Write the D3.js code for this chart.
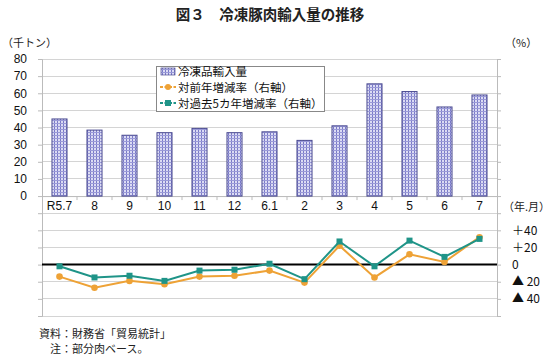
<!DOCTYPE html>
<html><head><meta charset="utf-8">
<script src="https://cdn.jsdelivr.net/npm/d3@7"></script>
<style>body{margin:0;background:#fff}svg{display:block}</style>
</head><body>
<svg id="c" width="550" height="358"></svg>
<script>
const categories = ["R5.7","8","9","10","11","12","6.1","2","3","4","5","6","7"];
const imports = [45, 38.5, 35.5, 37, 39.5, 37, 37.5, 32.5, 41, 65.5, 61, 52, 59];
const yoyRate = [-14, -27, -19, -23, -14, -13, -7, -21, 22, -15, 12, 3, 32];
const fiveYearRate = [-2, -15, -13, -19, -7, -6, 1, -17, 27, -2, 28, 9, 30];
const leftTicks = [0,10,20,30,40,50,60,70,80];
const rightTicks = [40,20,0,-20,-40];
const rightTickLabels = ["＋40","＋20","0","▲ 20","▲ 40"];

const JP = "'Noto Sans CJK JP', sans-serif";
const NUM = "'Liberation Sans', Arial, sans-serif";
const svg = d3.select("#c");
const L = 42, R = 497, T = 59, B = 316;

const x = d3.scaleBand().domain(categories).range([L, R]).paddingInner(0.57).paddingOuter(0.285);
const xc = d3.scaleBand().domain(categories).range([L, R]);
const yL = d3.scaleLinear().domain([-70, 80]).range([B, T]);
const yR = d3.scaleLinear().domain([-60, 240]).range([B, T]);

// pattern
const defs = svg.append("defs");
const pat = defs.append("pattern").attr("id","plaid").attr("patternUnits","userSpaceOnUse").attr("width",3).attr("height",3);
pat.append("rect").attr("width",3).attr("height",3).attr("fill","#dcdcf4");
pat.append("rect").attr("x",0).attr("y",0).attr("width",1).attr("height",3).attr("fill","#7a7ac8");
pat.append("rect").attr("x",0).attr("y",0).attr("width",3).attr("height",1).attr("fill","#9a9ad8");

// title
svg.append("text").attr("x",270).attr("y",20).attr("text-anchor","middle")
  .attr("font-family",JP).attr("font-size",14.5).attr("font-weight","bold").attr("fill","#222")
  .text("図３　冷凍豚肉輸入量の推移");
svg.append("text").attr("x",2).attr("y",47).attr("font-family",JP).attr("font-size",11).attr("fill","#222").text("（千トン）");
svg.append("text").attr("x",505).attr("y",47).attr("font-family",JP).attr("font-size",11).attr("fill","#222").text("（%）");

// gridlines
const grid = d3.range(-70, 81, 10);
svg.append("g").selectAll("line").data(grid).join("line")
  .attr("x1",L).attr("x2",R).attr("y1",d=>yL(d)).attr("y2",d=>yL(d))
  .attr("stroke","#d4d4d4").attr("stroke-width",1).attr("shape-rendering","crispEdges");

// left axis
const gl = svg.append("g").attr("transform",`translate(${L},0)`)
  .call(d3.axisLeft(yL).tickValues(grid).tickSize(4).tickFormat(d => leftTicks.includes(d) ? d : ""));
gl.select(".domain").attr("stroke","#bbb");
gl.selectAll(".tick line").attr("stroke","#bbb");
gl.selectAll(".tick text").attr("font-family",NUM).attr("font-size",12).attr("fill","#111").attr("dx",-8);

// right axis
const gr = svg.append("g").attr("transform",`translate(${R},0)`)
  .call(d3.axisRight(yR).tickValues(d3.range(-60, 241, 20)).tickSize(4).tickFormat(""));
gr.select(".domain").attr("stroke","#bbb");
gr.selectAll(".tick line").attr("stroke","#bbb");
svg.append("g").selectAll("text").data(rightTicks).join("text")
  .attr("x",512).attr("y",d=>yR(d)).attr("dy","0.35em")
  .attr("font-family",JP).attr("font-size",12).attr("fill","#111")
  .text((d,i)=>rightTickLabels[i]);
svg.append("text").attr("x",503).attr("y",211).attr("font-family",JP).attr("font-size",11).attr("fill","#222").text("（年.月）");

// x axis at 0 of left
const gx = svg.append("g").attr("transform",`translate(0,${yL(0)})`)
  .call(d3.axisBottom(xc).tickSize(0).tickFormat(d=>d));
gx.select(".domain").attr("stroke","#bbb");
gx.selectAll(".tick text").attr("font-family",NUM).attr("font-size",12).attr("fill","#111").attr("dy","0.9em");
svg.append("g").selectAll("line").data(categories.slice(1)).join("line")
  .attr("x1",d=>xc(d)).attr("x2",d=>xc(d)).attr("y1",yL(0)).attr("y2",yL(0)+4)
  .attr("stroke","#bbb");

// bars
svg.append("g").selectAll("rect").data(imports).join("rect")
  .attr("x",(d,i)=>x(categories[i])).attr("width",x.bandwidth())
  .attr("y",d=>yL(d)).attr("height",d=>yL(0)-yL(d))
  .attr("fill","url(#plaid)").attr("stroke","#4a4a90").attr("stroke-width",1);

// zero line of right axis
svg.append("line").attr("x1",L).attr("x2",R).attr("y1",yR(0)).attr("y2",yR(0))
  .attr("stroke","#000").attr("stroke-width",2);

const cx = i => xc(categories[i]) + xc.bandwidth()/2;
const line = d3.line().x((d,i)=>cx(i)).y(d=>yR(d));
const ORANGE = "#eea236", TEAL = "#1f9488";
svg.append("path").datum(yoyRate).attr("d",line).attr("fill","none").attr("stroke",ORANGE).attr("stroke-width",2);
svg.append("g").selectAll("circle").data(yoyRate).join("circle")
  .attr("cx",(d,i)=>cx(i)).attr("cy",d=>yR(d)).attr("r",3.3).attr("fill",ORANGE);
svg.append("path").datum(fiveYearRate).attr("d",line).attr("fill","none").attr("stroke",TEAL).attr("stroke-width",2);
svg.append("g").selectAll("rect").data(fiveYearRate).join("rect")
  .attr("x",(d,i)=>cx(i)-3).attr("y",d=>yR(d)-3).attr("width",6).attr("height",6).attr("fill",TEAL);

// legend
const lg = svg.append("g");
lg.append("rect").attr("x",156.5).attr("y",66.5).attr("width",168).attr("height",45)
  .attr("fill","#fff").attr("stroke","#888");
lg.append("rect").attr("x",161).attr("y",68).attr("width",14).attr("height",7).attr("fill","url(#plaid)").attr("stroke","#4a4a90").attr("stroke-width",0.7);
lg.append("line").attr("x1",160).attr("x2",176).attr("y1",87).attr("y2",87).attr("stroke",ORANGE).attr("stroke-width",2).attr("stroke-dasharray","3,1.5");
lg.append("circle").attr("cx",168).attr("cy",87).attr("r",3).attr("fill",ORANGE);
lg.append("line").attr("x1",160).attr("x2",176).attr("y1",103).attr("y2",103).attr("stroke",TEAL).attr("stroke-width",2).attr("stroke-dasharray","3,1.5");
lg.append("rect").attr("x",165).attr("y",100).attr("width",6).attr("height",6).attr("fill",TEAL);
const legText = ["冷凍品輸入量","対前年増減率（右軸）","対過去5カ年増減率（右軸）"];
lg.selectAll("text.l").data(legText).join("text").attr("class","l")
  .attr("x",178).attr("y",(d,i)=>72+i*16).attr("dy","0.35em")
  .attr("font-family",JP).attr("font-size",11.5).attr("fill","#111").text(d=>d);

// notes
svg.append("text").attr("x",39).attr("y",338).attr("font-family",JP).attr("font-size",11).attr("fill","#222").text("資料：財務省「貿易統計」");
svg.append("text").attr("x",50).attr("y",353).attr("font-family",JP).attr("font-size",11).attr("fill","#222").text("注：部分肉ベース。");
</script>
</body></html>
